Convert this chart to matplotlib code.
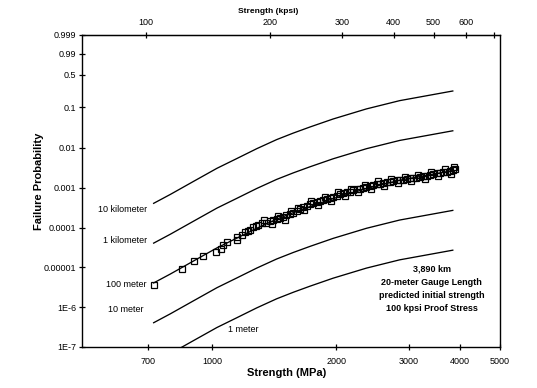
import numpy as np
import matplotlib
matplotlib.use("Agg")
import matplotlib.pyplot as plt
from matplotlib.ticker import NullLocator

plt.rcParams['font.family'] = ['Liberation Sans', 'DejaVu Sans']

# --- curvas previstas (probabilidade de falha x resistência) ---
curve_mpa = [721, 791, 901, 1027, 1148, 1283, 1434, 1574, 1727, 1967, 2369, 2853, 3435, 3840]
f_10km = [4.07e-4, 6.79e-4, 1.447e-3, 3.082e-3, 5.42e-3, 9.56e-3, 0.01611, 0.02343,
          0.03308, 0.05219, 0.09149, 0.1434, 0.1970, 0.2371]
f_1km = [4.07e-5, 6.79e-5, 1.447e-4, 3.087e-4, 5.435e-4, 9.602e-4, 1.623e-3, 2.368e-3,
         3.358e-3, 5.346e-3, 9.550e-3, 0.01536, 0.02170, 0.02670]
f_100m = [4.07e-6, 6.79e-6, 1.447e-5, 3.087e-5, 5.435e-5, 9.607e-5, 1.624e-4, 2.371e-4,
          3.364e-4, 5.359e-4, 9.590e-4, 1.547e-3, 2.192e-3, 2.702e-3]
f_10m = [4.07e-7, 6.79e-7, 1.447e-6, 3.087e-6, 5.435e-6, 9.607e-6, 1.624e-5, 2.371e-5,
         3.364e-5, 5.360e-5, 9.595e-5, 1.548e-4, 2.194e-4, 2.706e-4]
f_1m = [4.07e-8, 6.79e-8, 1.447e-7, 3.087e-7, 5.435e-7, 9.607e-7, 1.624e-6, 2.371e-6,
        3.364e-6, 5.360e-6, 9.595e-6, 1.548e-5, 2.194e-5, 2.706e-5]
curve_names = ['10 kilometer', '1 kilometer', '100 meter', '10 meter', '1 meter']

# --- dados medidos (quadrados) ---
data_mpa = [721, 845, 905, 950, 1023, 1053, 1062, 1089, 1148, 1151,
            1180, 1202, 1222, 1236, 1259, 1278, 1295, 1322, 1351, 1382,
            1405, 1434, 1461, 1488, 1515, 1545, 1571, 1604, 1633, 1661,
            1696, 1727, 1756, 1793, 1826, 1862, 1899, 1931, 1967, 2008,
            2042, 2082, 2123, 2159, 2201, 2245, 2282, 2327, 2369, 2413,
            2461, 2509, 2552, 2599, 2653, 2698, 2751, 2806, 2853, 2909,
            2966, 3017, 3076, 3131, 3189, 3252, 3316, 3372, 3435, 3507,
            3566, 3636, 3708, 3770, 3834, 3877]
data_f = [3.64e-6, 8.86e-6, 1.437e-5, 1.922e-5, 2.426e-5, 2.957e-5, 3.584e-5, 4.446e-5, 4.994e-5, 5.813e-5,
          6.683e-5, 7.776e-5, 8.342e-5, 8.944e-5, 1.040e-4, 1.083e-4, 1.149e-4, 1.290e-4, 1.313e-4, 1.450e-4,
          1.582e-4, 1.601e-4, 1.778e-4, 1.862e-4, 2.056e-4, 2.180e-4, 2.378e-4, 2.596e-4, 3.002e-4, 3.277e-4,
          3.575e-4, 3.902e-4, 4.064e-4, 4.462e-4, 4.782e-4, 5.069e-4, 5.373e-4, 5.695e-4, 5.966e-4, 6.400e-4,
          6.784e-4, 7.405e-4, 7.625e-4, 7.988e-4, 8.562e-4, 9.076e-4, 9.348e-4, 1.002e-3, 1.050e-3, 1.113e-3,
          1.159e-3, 1.215e-3, 1.251e-3, 1.303e-3, 1.365e-3, 1.422e-3, 1.472e-3, 1.533e-3, 1.578e-3, 1.597e-3,
          1.673e-3, 1.723e-3, 1.743e-3, 1.774e-3, 1.880e-3, 1.935e-3, 2.016e-3, 2.088e-3, 2.175e-3, 2.305e-3,
          2.373e-3, 2.472e-3, 2.545e-3, 2.666e-3, 2.826e-3, 2.996e-3]
# pontos sobrepostos na faixa densa (espalhamento acima/abaixo da linha)
band_mpa = [1333, 1394, 1446, 1500, 1558, 1617, 1675, 1742, 1808, 1878,
            1947, 2025, 2099, 2177, 2264, 2347, 2433, 2530, 2621, 2721,
            2830, 2933, 3042, 3157, 3279, 3400, 3536, 3667, 3802, 3860]
band_f = [1.535e-4, 1.218e-4, 1.905e-4, 1.564e-4, 2.594e-4, 3.09e-4, 2.75e-4, 4.64e-4, 3.75e-4, 6.03e-4,
          4.78e-4, 7.62e-4, 6.22e-4, 9.51e-4, 7.62e-4, 1.192e-3, 9.35e-4, 1.446e-3, 1.095e-3, 1.692e-3,
          1.288e-3, 1.900e-3, 1.447e-3, 2.111e-3, 1.625e-3, 2.485e-3, 1.936e-3, 2.942e-3, 2.239e-3, 3.363e-3]

# --- eixos ---
y_ticks = [1e-7, 1e-6, 1e-5, 1e-4, 1e-3, 0.01, 0.1, 0.5, 0.9, 0.999]
y_labels = ['1E-7', '1E-6', '0.00001', '0.0001', '0.001', '0.01', '0.1', '0.5', '0.99', '0.999']
x_ticks = [700, 1000, 2000, 3000, 4000, 5000]
kpsi_ticks = [100, 200, 300, 400, 500, 600, 700]
kpsi_labels = ['100', '200', '300', '400', '500', '600', '']
MPA_POR_KPSI = 6.894757

note_lines = ['3,890 km', '20-meter Gauge Length', 'predicted initial strength', '100 kpsi Proof Stress']


# escala de Weibull: ln(-ln(1-F))
def weibull(f):
    f = np.clip(np.asarray(f, dtype=float), 1e-300, 1 - 1e-16)
    return np.log(-np.log1p(-f))


def weibull_inv(w):
    return -np.expm1(-np.exp(np.asarray(w, dtype=float)))


fig = plt.figure(figsize=(5.37, 3.88), dpi=100)
ax = fig.add_axes([0.1527, 0.1057, 0.7784, 0.8041])
ax.set_xscale('log')
ax.set_yscale('function', functions=(weibull, weibull_inv))

for f in [f_10km, f_1km, f_100m, f_10m, f_1m]:
    ax.plot(curve_mpa, f, color='black', lw=0.95)

for xs, ys in [(data_mpa, data_f), (band_mpa, band_f)]:
    ax.plot(xs, ys, linestyle='none', marker='s', ms=4.2,
            mfc='none', mec='black', mew=0.9)

ax.set_xlim(483, 5000)
ax.set_ylim(1e-7, 0.999)
ax.set_xticks(x_ticks)
ax.set_xticklabels([str(t) for t in x_ticks])
ax.xaxis.set_minor_locator(NullLocator())
ax.set_yticks(y_ticks)
ax.set_yticklabels(y_labels)
ax.yaxis.set_minor_locator(NullLocator())
ax.tick_params(axis='x', direction='inout', length=5, width=0.9, labelsize=6.5, pad=5)
ax.tick_params(axis='y', direction='inout', length=5, width=0.9, labelsize=6.5, pad=1.5)
ax.tick_params(right=False, top=False)
for s in ax.spines.values():
    s.set_linewidth(1.0)

ax.set_xlabel('Strength (MPa)', fontsize=8, fontweight='bold')
ax.xaxis.set_label_coords(0.49, -0.068)
ax.set_ylabel('Failure Probability', fontsize=8, fontweight='bold')
ax.yaxis.set_label_coords(-0.092, 0.53)

# eixo superior em kpsi
sec = ax.secondary_xaxis('top', functions=(lambda x: x / MPA_POR_KPSI, lambda x: x * MPA_POR_KPSI))
sec.set_xticks(kpsi_ticks)
sec.set_xticklabels(kpsi_labels)
sec.xaxis.set_minor_locator(NullLocator())
sec.tick_params(direction='inout', length=5, width=0.9, labelsize=6.5, pad=3.5)
ax.text(0.446, 1.074, 'Strength (kpsi)', transform=ax.transAxes, ha='center', va='center',
        fontsize=6, fontweight='bold')

# rótulos das curvas
label_pos = [(0.1555, 0.442), (0.1555, 0.340), (0.1555, 0.199), (0.146, 0.119)]
for name, (lx, ly) in zip(curve_names[:4], label_pos):
    ax.text(lx, ly, name, transform=ax.transAxes, ha='right', va='center', fontsize=6.5)
ax.text(0.385, 0.055, curve_names[4], transform=ax.transAxes, ha='center', va='center', fontsize=6.5)

ax.text(0.837, 0.186, '\n'.join(note_lines), transform=ax.transAxes, ha='center', va='center',
        fontsize=6.5, fontweight='bold', linespacing=1.6)

fig.savefig('out.png', dpi=100)
